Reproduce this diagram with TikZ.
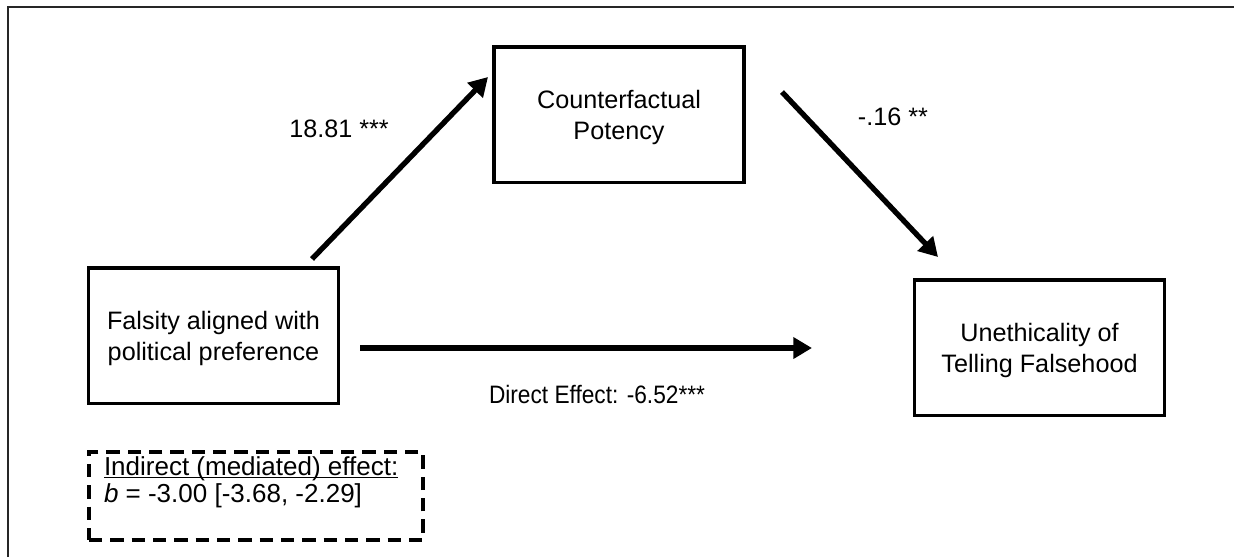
\documentclass[tikz,border=0pt]{standalone}
\usepackage{fontspec}
\setmainfont{Liberation Sans}
\usetikzlibrary{arrows.meta}
\newcommand{\topstrut}{\rule{0pt}{18.3pt}}
\begin{document}
\begin{tikzpicture}[x=0.75pt,y=-0.75pt,
  every node/.style={font=\fontsize{18.9}{23.25}\selectfont, inner sep=0pt, outer sep=0pt},
  varbox/.style={draw, line width=2.5pt, minimum width=187.5pt, minimum height=101.5pt, align=center},
  effarrow/.style={line width=4pt, -{Triangle[length=14pt,width=15.5pt]}},
  lbl/.style={anchor=base},
  dashbox/.style={draw, line width=2.8pt, dash pattern=on 10pt off 6pt, minimum width=250.5pt, minimum height=66pt},
  indtext/.style={anchor=base west, font=\fontsize{19.5}{23.5}\selectfont}
 ]
\useasboundingbox (0,0) rectangle (1234,557);
% outer frame
\draw[line width=1.5pt, black!85] (7.5,557) -- (7.5,6.5) -- (1234,6.5);

% boxes
\node[varbox] (x) at (213.5,335.5) {\topstrut Falsity aligned with\\political preference};
\node[varbox] (m) at (619,114.5) {\topstrut Counterfactual\\Potency};
\node[varbox] (y) at (1039.5,347.5) {\topstrut Unethicality of\\Telling Falsehood};

% arrow end points
\coordinate (a1s) at (312,259);
\coordinate (a1e) at (488,77);
\coordinate (a2s) at (782,92);
\coordinate (a2e) at (938,257);
\coordinate (a3s) at (360,348);
\coordinate (a3e) at (812,348);

\draw[effarrow] (a1s) -- (a1e);
\draw[effarrow] (a2s) -- (a2e);
\draw[effarrow] (a3s) -- (a3e);

% labels
\node[lbl] (l1) at (339,137) {18.81 ***};
\node[lbl] (l2) at (893,125) {-.16 **};
\node[lbl] (l3) at (597,403) {\scalebox{0.9}[1]{Direct Effect: -6.52***}};

% indirect effect box
\node[dashbox] (ind) at (256,496) {};
\node[indtext] (ind1) at (104,475) {Indirect (mediated) effect:};
\draw[line width=1pt] ([yshift=-2pt]ind1.base west) -- ([yshift=-2pt]ind1.base east);
\node[indtext] (ind2) at (104,502) {\textit{b} = -3.00 [-3.68, -2.29]};
\end{tikzpicture}
\end{document}
